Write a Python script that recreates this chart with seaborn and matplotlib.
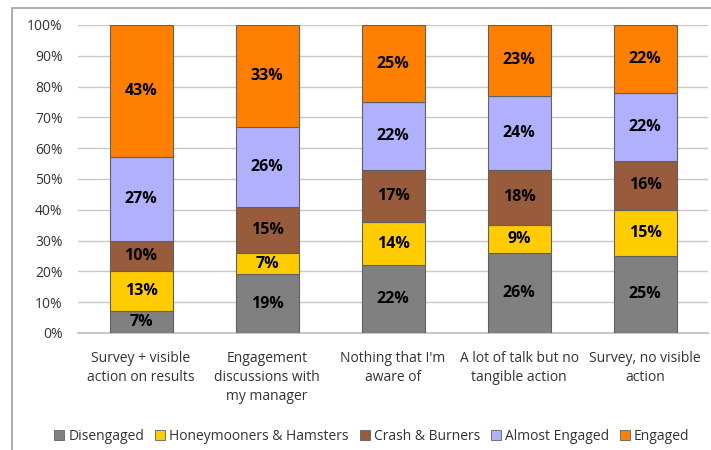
import matplotlib
matplotlib.use("Agg")
import matplotlib.pyplot as plt
import matplotlib.patches as mpatches
from matplotlib.ticker import PercentFormatter
import numpy as np
import pandas as pd
import seaborn as sns

categories = [
    "Survey + visible\naction on results",
    "Engagement\ndiscussions with\nmy manager",
    "Nothing that I'm\naware of",
    "A lot of talk but no\ntangible action",
    "Survey, no visible\naction",
]
series = ["Disengaged", "Honeymooners & Hamsters", "Crash & Burners",
          "Almost Engaged", "Engaged"]
disengaged = [7, 19, 22, 26, 25]
honeymooners = [13, 7, 14, 9, 15]
crash = [10, 15, 17, 18, 16]
almost = [27, 26, 22, 24, 22]
engaged = [43, 33, 25, 23, 22]
colors = ["#808080", "#FFCC00", "#985C3C", "#B0B0FF", "#FF8000"]

sns.set_theme(style="white")
plt.rcParams["font.family"] = ["Open Sans", "DejaVu Sans"]

fig = plt.figure(figsize=(7.11, 4.5), dpi=100)
ax = fig.add_axes([78 / 711, 1 - 333 / 450, 630 / 711, 308 / 450])

values = [disengaged, honeymooners, crash, almost, engaged]
bottom = np.zeros(len(categories))
for name, vals, col in zip(series, values, colors):
    df = pd.DataFrame({"cat": categories, "val": vals})
    sns.barplot(data=df, x="cat", y="val", bottom=bottom, color=col,
                width=0.5, edgecolor="#606060", linewidth=0.8,
                saturation=1, ax=ax, zorder=3)
    for i, v in enumerate(vals):
        ax.text(i, bottom[i] + v / 2, f"{v}%", ha="center", va="center",
                fontsize=11.5, fontweight="bold", color="black", zorder=4)
    bottom = bottom + np.array(vals)

if ax.get_legend() is not None:
    ax.get_legend().remove()

ax.set_ylim(0, 100)
ax.set_xlim(-0.5, len(categories) - 0.5)
ax.set_yticks(range(0, 101, 10))
ax.yaxis.set_major_formatter(PercentFormatter(decimals=0))
ax.grid(axis="y", color="#C8C8C8", linewidth=1, zorder=0)
for s in ["top", "right", "left"]:
    ax.spines[s].set_visible(False)
ax.spines["bottom"].set_color("#BFBFBF")
ax.tick_params(axis="y", labelsize=10, colors="#333333", pad=11, length=0)
ax.tick_params(axis="x", labelsize=10, colors="#333333", pad=13, length=0)
for lbl in ax.get_xticklabels():
    lbl.set_linespacing(1.35)
ax.set_xlabel("")
ax.set_ylabel("")

handles = [mpatches.Patch(facecolor=c, edgecolor="#606060", linewidth=0.6)
           for c in colors]
fig.legend(handles, series, loc="center", bbox_to_anchor=(372 / 711, 1 - 436 / 450),
           ncol=5, frameon=False, fontsize=10, handlelength=0.7, handleheight=0.7,
           handletextpad=0.3, columnspacing=0.8, labelcolor="#333333")

border = mpatches.Rectangle((12 / 711, -0.05), 1.0, 1 - 8 / 450 + 0.05,
                            transform=fig.transFigure, fill=False,
                            edgecolor="#A0A0A0", linewidth=1.2, clip_on=False)
fig.add_artist(border)

fig.savefig("out.png", dpi=100)
